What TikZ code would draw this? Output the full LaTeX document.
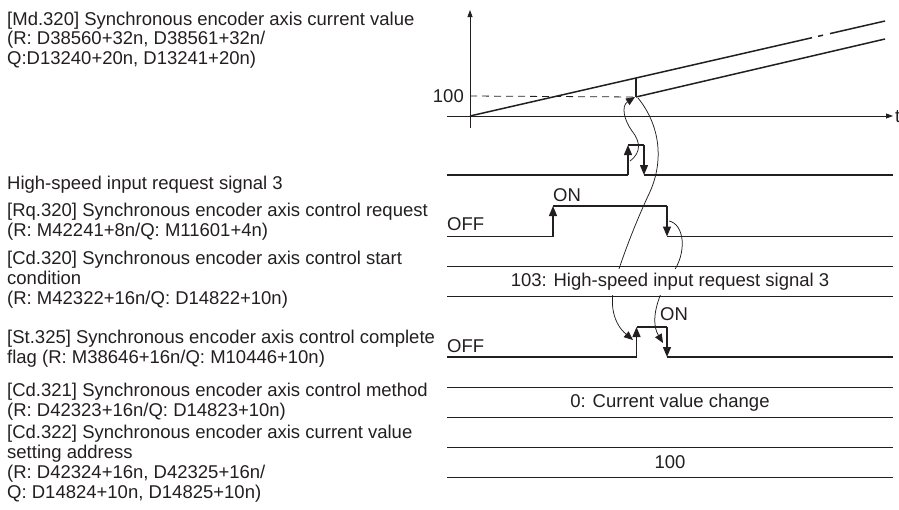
\documentclass[tikz,border=0pt]{standalone}
\usepackage{fontspec}
\setmainfont{Liberation Sans}
\usetikzlibrary{arrows.meta}
\definecolor{ink}{HTML}{231F20}
\tikzset{
  txt/.style={font=\fontsize{18.5}{20}\selectfont, text=ink, inner sep=0pt, anchor=base west},
  boxtxt/.style={font=\fontsize{18.5}{20}\selectfont, text=ink, fill=white, inner xsep=3pt, inner ysep=0pt, minimum height=26pt},
  wave/.style={draw=ink, line width=1.3pt},
  edgearrow/.style={draw=ink, line width=1.3pt, -{Triangle[length=10pt,width=8pt]}},
  axisline/.style={draw=ink, line width=0.8pt, -{Triangle[length=7pt,width=5pt]}},
  trace/.style={draw=ink, line width=1.5pt},
  link/.style={draw=ink, line width=0.75pt, -{Triangle[length=9pt,width=7.5pt]}},
}
\begin{document}
\begin{tikzpicture}[x=1pt,y=-1pt]
\useasboundingbox (0,0) rectangle (899,509);

% ---------- left labels ----------
\node[txt] (md1) at (7,25) {[Md.320] Synchronous encoder axis current value};
\node[txt] (md2) at (7,44.5) {(R: D38560+32n, D38561+32n/};
\node[txt] (md3) at (7,64) {Q:D13240+20n, D13241+20n)};
\node[txt] (hs1) at (7,189) {High-speed input request signal 3};
\node[txt] (rq1) at (7,216) {[Rq.320] Synchronous encoder axis control request};
\node[txt] (rq2) at (7,236) {(R: M42241+8n/Q: M11601+4n)};
\node[txt] (cs1) at (7,264) {[Cd.320] Synchronous encoder axis control start};
\node[txt] (cs2) at (7,284) {condition};
\node[txt] (cs3) at (7,304) {(R: M42322+16n/Q: D14822+10n)};
\node[txt] (st1) at (7,343) {[St.325] Synchronous encoder axis control complete};
\node[txt] (st2) at (7,363) {flag (R: M38646+16n/Q: M10446+10n)};
\node[txt] (cm1) at (7,396) {[Cd.321] Synchronous encoder axis control method};
\node[txt] (cm2) at (7,416) {(R: D42323+16n/Q: D14823+10n)};
\node[txt] (ca1) at (7,438) {[Cd.322] Synchronous encoder axis current value};
\node[txt] (ca2) at (7,458) {setting address};
\node[txt] (ca3) at (7,478) {(R: D42324+16n, D42325+16n/};
\node[txt] (ca4) at (7,498) {Q: D14824+10n, D14825+10n)};

% ---------- top graph ----------
\coordinate (yb) at (470,128);
\coordinate (yt) at (470,10);
\coordinate (xl) at (447,116);
\coordinate (xr) at (893,116);
\coordinate (org) at (470,116);
\draw[axisline] (yb) -- (yt);
\draw[axisline] (xl) -- (xr);
\node[txt] (tlab) at (895,122) {t};
\node[txt, anchor=base east] (hund) at (464,102.5) {100};
\coordinate (d0) at (470,96);
\coordinate (chg) at (636,97);
\draw[ink, line width=0.8pt, dash pattern=on 7pt off 5pt] (d0) -- (chg);
\coordinate (u1) at (812,37.7);
\coordinate (u2) at (818,36.3);
\coordinate (u3) at (823,35.2);
\coordinate (u4) at (830,33.6);
\coordinate (u5) at (885,21);
\coordinate (uj) at (636,78);
\coordinate (lo) at (885,39);
\draw[trace] (org) -- (u1);
\draw[trace] (u2) -- (u3);
\draw[trace] (u4) -- (u5);
\draw[trace] (uj) -- (chg);
\draw[trace] (chg) -- (lo);

% ---------- High-speed input request signal 3 ----------
\coordinate (hA) at (447,175);
\coordinate (hR0) at (628,175);
\coordinate (hR1) at (628,145);
\coordinate (hF0) at (644,145);
\coordinate (hF1) at (644,175);
\coordinate (hB) at (893,175);
\draw[wave] (hA) -- (hR0);
\draw[edgearrow] (hR0) -- (hR1);
\draw[wave] (hR1) -- (hF0);
\draw[edgearrow] (hF0) -- (hF1);
\draw[wave] (hF1) -- (hB);

% ---------- Rq.320 ----------
\coordinate (rA) at (447,236.5);
\coordinate (rR0) at (553,236.5);
\coordinate (rR1) at (553,206);
\coordinate (rF0) at (667,206);
\coordinate (rF1) at (667,236.5);
\coordinate (rB) at (893,236.5);
\draw[wave] (rA) -- (rR0);
\draw[edgearrow] (rR0) -- (rR1);
\draw[wave] (rR1) -- (rF0);
\draw[edgearrow] (rF0) -- (rF1);
\draw[wave] (rF1) -- (rB);
\node[txt] (rqoff) at (447,230) {OFF};
\node[txt] (rqon) at (553,201) {ON};

% ---------- St.325 ----------
\coordinate (sA) at (447,357);
\coordinate (sR0) at (636.5,357);
\coordinate (sR1) at (636.5,327);
\coordinate (sF0) at (667,327);
\coordinate (sF1) at (667,357);
\coordinate (sB) at (893,357);
\draw[wave] (sA) -- (sR0);
\draw[edgearrow] (sR0) -- (sR1);
\draw[wave] (sR1) -- (sF0);
\draw[edgearrow] (sF0) -- (sF1);
\draw[wave] (sF1) -- (sB);
\node[txt] (stoff) at (447,352) {OFF};
\node[txt] (ston) at (660,320) {ON};

% ---------- linking curves ----------
\coordinate (aS) at (630,161);
\coordinate (aE) at (635,97);
\draw[link] (aS) .. controls (642,152) and (640,141) .. (632,131)
               .. controls (624,120) and (621,106) .. (aE);
\coordinate (bS) at (638,98);
\coordinate (bE) at (633,340);
\draw[link] (bS) .. controls (660,125) and (665,162) .. (648,196)
               .. controls (636,222) and (625,250) .. (616,278)
               .. controls (608,305) and (614,324) .. (bE);
\coordinate (cS) at (669,221);
\coordinate (cE) at (663,343);
\draw[link] (cS) .. controls (684,224) and (688,252) .. (672,274)
               .. controls (662,287) and (648,318) .. (cE);

% ---------- value bands ----------
\node[boxtxt] (csv) at (670,281.5) {103: High-speed input request signal 3};
\coordinate (c1a) at (447,266.5); \coordinate (c1b) at (893,266.5);
\coordinate (c2a) at (447,296.5); \coordinate (c2b) at (893,296.5);
\draw[wave] (c1a) -- (c1b);
\draw[wave] (c2a) -- (c2b);

\node[boxtxt] (cmv) at (670,402.5) {0: Current value change};
\coordinate (m1a) at (447,387.5); \coordinate (m1b) at (893,387.5);
\coordinate (m2a) at (447,417.5); \coordinate (m2b) at (893,417.5);
\draw[wave] (m1a) -- (m1b);
\draw[wave] (m2a) -- (m2b);

\node[boxtxt] (cav) at (670,462.5) {100};
\coordinate (v1a) at (447,447.5); \coordinate (v1b) at (893,447.5);
\coordinate (v2a) at (447,477.5); \coordinate (v2b) at (893,477.5);
\draw[wave] (v1a) -- (v1b);
\draw[wave] (v2a) -- (v2b);
\end{tikzpicture}
\end{document}
